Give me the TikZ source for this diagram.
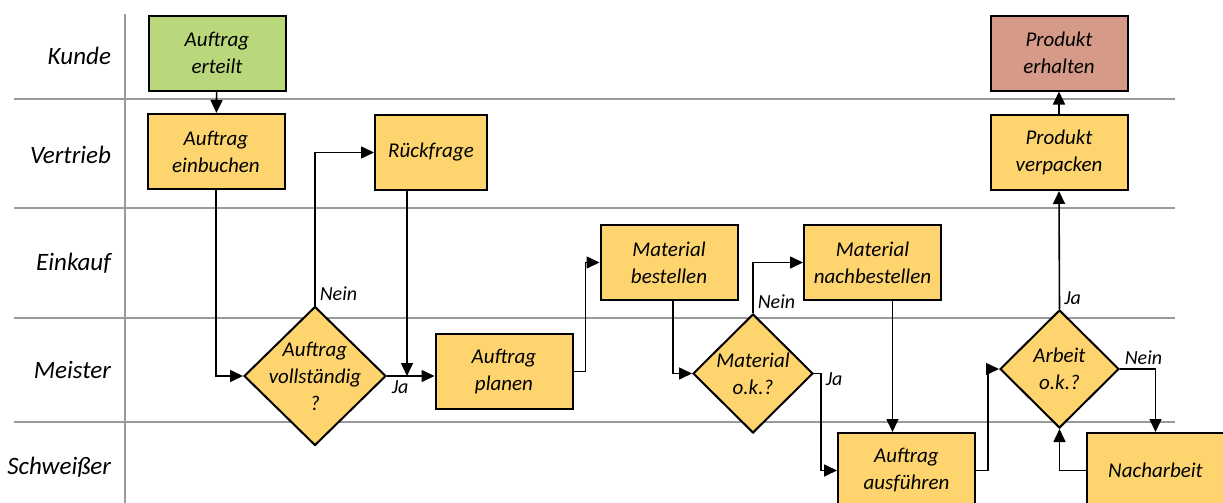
\documentclass[tikz,border=0pt]{standalone}
\usepackage{fontspec}
\setmainfont{Carlito}
\usetikzlibrary{arrows.meta,positioning,shapes.geometric}
\definecolor{startgreen}{HTML}{B9D77B}
\definecolor{taskyellow}{HTML}{FDD46E}
\definecolor{endred}{HTML}{D59A88}
\definecolor{lanegray}{HTML}{9A9A9A}

\begin{document}
\begin{tikzpicture}[x=0.5pt,y=-0.5pt,>={Triangle[length=6.5pt,width=6pt]},
	block/.style={rectangle,draw,line width=1pt,fill=taskyellow,minimum width=68.5pt,minimum height=37.5pt,align=center,font=\itshape\fontsize{10.5}{13.5}\selectfont},
	decision/.style={diamond,draw,line width=1pt,fill=taskyellow,inner sep=0pt},
	ask/.style={font=\itshape\fontsize{10.5}{13.5}\selectfont,align=center},
	flow/.style={draw,->,line width=0.8pt},
	lane/.style={draw=lanegray,line width=0.9pt},
	lanename/.style={anchor=east,font=\itshape\fontsize{12.5}{15}\selectfont},
	answer/.style={font=\itshape\fontsize{10}{12}\selectfont,inner sep=2pt}]
	\useasboundingbox (0,0) rectangle (1223,503);

	\draw[lane] (14,99) -- (1175,99);
	\draw[lane] (14,208) -- (1175,208);
	\draw[lane] (14,318) -- (1175,318);
	\draw[lane] (14,422) -- (1175,422);
	\draw[lane] (125,14) -- (125,503);

	\node[lanename] (kunde) at (118,56) {Kunde};
	\node[lanename] (vertrieb) at (118,155) {Vertrieb};
	\node[lanename] (einkauf) at (118,263) {Einkauf};
	\node[lanename] (meister) at (118,370) {Meister};
	\node[lanename] (schweisser) at (118,467) {Schweißer};

	\node[block,fill=startgreen] (erteilt) at (217,53) {Auftrag\\erteilt};
	\node[block] (einbuchen) at (216,151.5) {Auftrag\\einbuchen};
	\node[block,minimum width=56pt] (rueck) at (431,152.5) {Rückfrage};
	\node[decision,minimum width=71pt,minimum height=69.5pt,label={[ask]center:Auftrag\\vollständig\\?}] (vollst) at (315,376) {};
	\node[block] (planen) at (504,371.5) {Auftrag\\planen};
	\node[block] (bestellen) at (669,262.5) {Material\\bestellen};
	\node[decision,minimum width=60pt,minimum height=59.5pt,label={[ask]center:Material\\o.k.?}] (matok) at (753,373.5) {};
	\node[block] (nachbest) at (872.5,262.5) {Material\\nachbestellen};
	\node[block] (ausfuehren) at (906.5,470.5) {Auftrag\\ausführen};
	\node[block,fill=endred] (erhalten) at (1059,53) {Produkt\\erhalten};
	\node[block] (verpacken) at (1059,152.5) {Produkt\\verpacken};
	\node[decision,minimum width=59.5pt,minimum height=59pt,label={[ask]center:Arbeit\\o.k.?}] (arbeitok) at (1059.5,369) {};
	\node[block] (nacharbeit) at (1155.5,470.5) {Nacharbeit};
	\coordinate (merge) at (407,376);

	\draw[flow] (erteilt) -- (einbuchen);
	\draw[flow] (einbuchen.south) |- (vollst.west);
	\draw[flow] (vollst.north) |- (rueck.west) node[answer,pos=0,above right] {Nein};
	\draw[flow] (vollst.east) -- node[answer,pos=0,below right] {Ja} (vollst.east -| planen.west);
	\draw[flow] (rueck.south -| merge) -- (merge);
	\draw[flow] (planen.east) -- ++(12,0) |- (bestellen.west);
	\draw[flow] ([xshift=2pt]bestellen.south) |- (matok.west);
	\draw[flow] (matok.north) |- (nachbest.west) node[answer,pos=0,above right] {Nein};
	\draw[flow] (matok.east) -- ++(7,0) node[answer,right,yshift=-3pt] {Ja} |- (ausfuehren.west);
	\draw[flow] ([xshift=10pt]nachbest.south) -- ([xshift=10pt]nachbest.south |- ausfuehren.north);
	\draw[flow] (ausfuehren.east) -- ++(12,0) |- (arbeitok.west);
	\draw[flow] (arbeitok.north) -- node[answer,pos=0,above right] {Ja} (verpacken.south);
	\draw[flow] (verpacken) -- (erhalten);
	\draw[flow] (arbeitok.east) -| (nacharbeit.north) node[answer,pos=0,above right] {Nein};
	\draw[flow] (nacharbeit.west) -| (arbeitok.south);
\end{tikzpicture}
\end{document}
